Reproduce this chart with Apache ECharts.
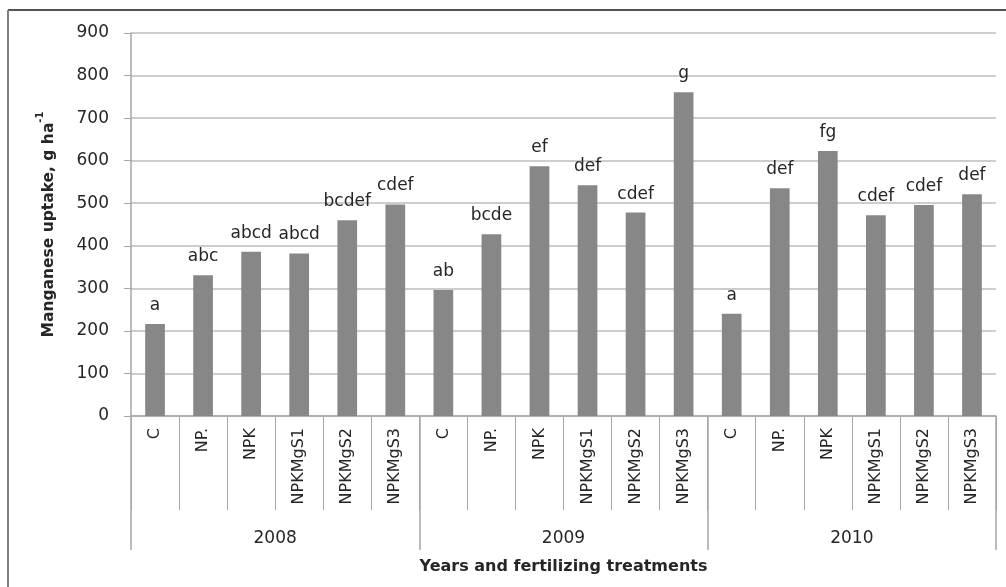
<!DOCTYPE html>
<html>
<head>
<meta charset="utf-8">
<script src="https://cdn.jsdelivr.net/npm/echarts@6/dist/echarts.min.js"></script>
<style>
  html, body { margin: 0; padding: 0; background: #fff; }
  #chart { width: 1006px; height: 587px; }
</style>
</head>
<body>
<div id="chart"></div>
<script>
// Manganese uptake by year and fertilizing treatment
const years = ['2008', '2009', '2010'];
const treatments = ['C', 'NP.', 'NPK', 'NPKMgS1', 'NPKMgS2', 'NPKMgS3'];

const uptake2008 = [216, 331, 386, 382, 460, 497];
const uptake2009 = [296, 427, 587, 542, 478, 761];
const uptake2010 = [240, 535, 623, 472, 496, 521];

// significance groups shown above the bars
const groups2008 = ['a', 'abc', 'abcd', 'abcd', 'bcdef', 'cdef'];
const groups2009 = ['ab', 'bcde', 'ef', 'def', 'cdef', 'g'];
const groups2010 = ['a', 'def', 'fg', 'cdef', 'cdef', 'def'];

const yMin = 0, yMax = 900, yStep = 100;

const categories = years.flatMap(() => treatments);
const values = [...uptake2008, ...uptake2009, ...uptake2010];
const groups = [...groups2008, ...groups2009, ...groups2010];

const FONT = 'DejaVu Sans';
const TEXT = '#262626';
const LINE = '#a6a6a6';

const chart = echarts.init(document.getElementById('chart'), null, { renderer: 'canvas' });

chart.setOption({
  animation: false,
  backgroundColor: '#fff',
  grid: { left: 131, right: 10, top: 33, bottom: 171, containLabel: false },
  xAxis: [
    {
      type: 'category',
      data: categories,
      position: 'bottom',
      axisLine: { show: true, lineStyle: { color: LINE, width: 1.5 } },
      axisTick: { show: true, interval: 0, length: 94, lineStyle: { color: LINE, width: 1 } },
      axisLabel: {
        interval: 0, rotate: 90, margin: 12,
        fontFamily: FONT, fontSize: 16, color: TEXT
      },
      splitLine: { show: false }
    },
    {
      type: 'category',
      data: years,
      position: 'bottom',
      axisLine: { show: false },
      axisTick: { show: true, interval: 0, length: 134, lineStyle: { color: LINE, width: 1.5 } },
      axisLabel: {
        interval: 0, margin: 114,
        fontFamily: FONT, fontSize: 17, color: TEXT
      },
      name: 'Years and fertilizing treatments',
      nameLocation: 'middle',
      nameGap: 143,
      nameTextStyle: { fontFamily: FONT, fontSize: 16, fontWeight: 'bold', color: TEXT },
      splitLine: { show: false }
    }
  ],
  yAxis: {
    type: 'value',
    min: yMin, max: yMax, interval: yStep,
    axisLine: { show: true, lineStyle: { color: LINE, width: 1.5 } },
    axisTick: { show: true, length: 7, lineStyle: { color: LINE, width: 1 } },
    axisLabel: { margin: 22, fontFamily: FONT, fontSize: 17, color: TEXT },
    splitLine: { show: true, lineStyle: { color: '#bdbdbd', width: 1.5 } },
    name: '{b|Manganese uptake, g ha}{s|-1}',
    nameLocation: 'middle',
    nameRotate: 90,
    nameGap: 74,
    nameTextStyle: {
      rich: {
        b: { fontFamily: FONT, fontSize: 15.5, fontWeight: 'bold', color: TEXT, lineHeight: 22, verticalAlign: 'bottom' },
        s: { fontFamily: FONT, fontSize: 10, fontWeight: 'bold', color: TEXT, lineHeight: 22, verticalAlign: 'top' }
      }
    }
  },
  series: [
    {
      type: 'bar',
      xAxisIndex: 0,
      data: values,
      barWidth: '41%',
      itemStyle: { color: '#878787' },
      label: {
        show: true,
        position: 'top',
        distance: 10,
        fontFamily: FONT, fontSize: 17, color: TEXT,
        formatter: p => groups[p.dataIndex]
      }
    }
  ],
  graphic: [
    { type: 'line', shape: { x1: 8, y1: 10, x2: 1006, y2: 10 }, style: { stroke: '#1a1a1a', lineWidth: 1.5 }, silent: true },
    { type: 'line', shape: { x1: 8, y1: 10, x2: 8, y2: 587 }, style: { stroke: '#7f7f7f', lineWidth: 2 }, silent: true }
  ]
});
</script>
</body>
</html>
